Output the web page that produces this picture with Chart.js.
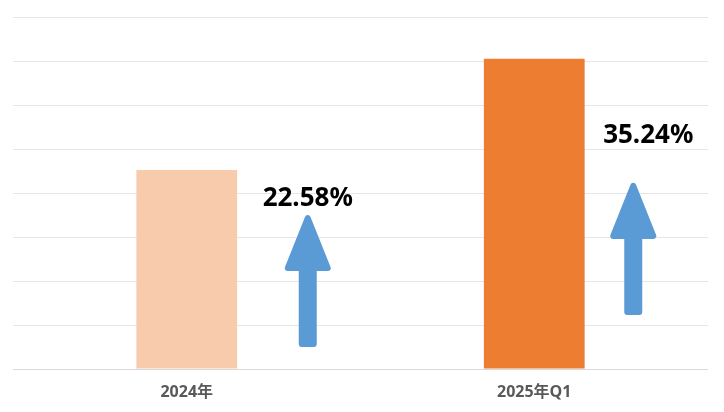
<!DOCTYPE html>
<html lang="zh">
<head>
  <meta charset="UTF-8">
  <title>增长</title>
  <script src="https://cdn.jsdelivr.net/npm/chart.js"></script>
  <style>
    html, body { margin: 0; padding: 0; background: #fff; }
    #wrap { width: 724px; height: 412px; }
  </style>
</head>
<body>
  <div id="wrap"><canvas id="c"></canvas></div>
  <script>
    const categories = ['2024年', '2025年Q1'];
    const values = [4.52, 7.05];
    const growthLabels = ['22.58%', '35.24%'];
    // arrows, in y-axis units
    const arrowFrom = [0.5, 1.23];
    const arrowTo = [3.5, 4.23];
    const labelAt = [3.7, 5.14];

    const arrowPlugin = {
      id: 'arrows',
      afterDatasetsDraw(chart, args, opts) {
        const { ctx, scales: { x, y } } = chart;
        ctx.save();
        categories.forEach((c, i) => {
          const cx = x.getPixelForValue(i) + opts.offsets[i];
          const lw = 6;
          const yb = y.getPixelForValue(arrowFrom[i]) - lw / 2;
          const yt = y.getPixelForValue(arrowTo[i]) + lw / 2;
          const headH = 50, headW = 40, shaftW = 12;
          ctx.beginPath();
          ctx.moveTo(cx, yt);
          ctx.lineTo(cx + headW / 2, yt + headH);
          ctx.lineTo(cx + shaftW / 2, yt + headH);
          ctx.lineTo(cx + shaftW / 2, yb);
          ctx.lineTo(cx - shaftW / 2, yb);
          ctx.lineTo(cx - shaftW / 2, yt + headH);
          ctx.lineTo(cx - headW / 2, yt + headH);
          ctx.closePath();
          ctx.fillStyle = '#5B9BD5';
          ctx.strokeStyle = '#5B9BD5';
          ctx.lineWidth = lw;
          ctx.lineJoin = 'round';
          ctx.fill();
          ctx.stroke();

          ctx.fillStyle = '#000';
          ctx.font = 'bold 26px "Noto Sans", sans-serif';
          ctx.textAlign = 'center';
          ctx.textBaseline = 'alphabetic';
          ctx.fillText(growthLabels[i], cx + opts.labelShift[i], y.getPixelForValue(labelAt[i]));
        });
        ctx.restore();
      }
    };

    new Chart(document.getElementById('c'), {
      type: 'bar',
      data: {
        labels: categories,
        datasets: [{
          data: values,
          backgroundColor: ['#F8CBAD', '#ED7D31'],
          barPercentage: 0.29,
          categoryPercentage: 1
        }]
      },
      options: {
        responsive: true,
        maintainAspectRatio: false,
        animation: false,
        layout: { padding: { left: 13, right: 16, top: 17, bottom: 0 } },
        plugins: {
          legend: { display: false },
          tooltip: { enabled: false },
          arrows: { offsets: [121, 99], labelShift: [0, 15] }
        },
        scales: {
          x: {
            grid: { display: false, drawTicks: false },
            border: { display: false },
            afterFit: s => { s.height = 43; },
            ticks: {
              color: '#595959',
              padding: 14,
              font: { size: 16, weight: 'bold', family: '"Open Sans", "Noto Sans CJK SC", sans-serif' }
            }
          },
          y: {
            min: 0,
            max: 8,
            ticks: { display: false, stepSize: 1 },
            border: { display: false },
            grid: {
              color: ctx => ctx.tick.value === 0 ? '#d9d9d9' : '#e6e6e6',
              drawTicks: false
            }
          }
        }
      },
      plugins: [arrowPlugin]
    });
  </script>
</body>
</html>
